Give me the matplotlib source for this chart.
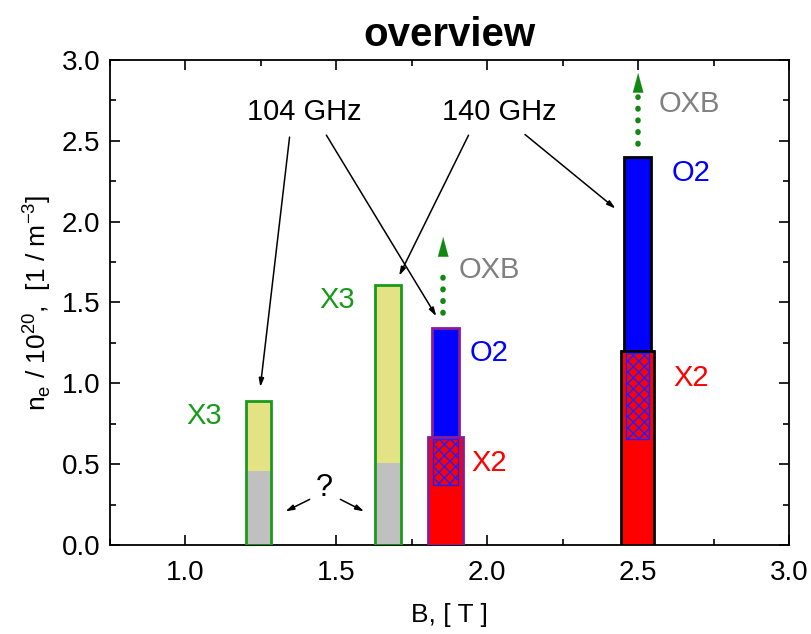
import matplotlib.pyplot as plt
from matplotlib.ticker import MultipleLocator

plt.rcParams['font.family'] = ['Liberation Sans', 'DejaVu Sans']
plt.rcParams['mathtext.fontset'] = 'custom'
plt.rcParams['mathtext.rm'] = 'Liberation Sans'

# X3 bars (gray lower part = uncertain, yellow upper part)
x3_pos = [1.242, 1.671]
x3_width = [0.085, 0.088]
x3_gray = [0.46, 0.505]
x3_top = [0.89, 1.61]

# X2 / O2 bars at 140 GHz
pos = [1.862, 2.498]
x2_width = [0.116, 0.108]
x2_top = [0.67, 1.20]
o2_width = [0.088, 0.088]
o2_top = [1.344, 2.40]
hatch_width = [0.083, 0.079]
hatch_low = [0.37, 0.655]
hatch_high = [0.654, 1.19]
bar_edge = ['#8a1a9a', 'black']

# OXB dotted arrows
oxb_x = [1.854, 2.5]
oxb_low = [1.435, 2.48]
oxb_high = [1.72, 2.77]
oxb_base = [1.78, 2.795]
oxb_tip = [1.905, 2.92]

fig = plt.figure(figsize=(8.12, 6.34), dpi=100)
ax = fig.add_axes([0.1355, 0.1404, 0.8362, 0.765])

for i in range(len(x3_pos)):
    ax.bar(x3_pos[i], x3_gray[i], width=x3_width[i], color='#c0c0c0',
           edgecolor='none', zorder=2)
    ax.bar(x3_pos[i], x3_top[i] - x3_gray[i], bottom=x3_gray[i],
           width=x3_width[i], color='#e3e284', edgecolor='none', zorder=2)
    ax.bar(x3_pos[i], x3_top[i], width=x3_width[i], fill=False,
           edgecolor='#1a9a1a', linewidth=2, zorder=3)

for i in range(len(pos)):
    ax.bar(pos[i], o2_top[i] - x2_top[i], bottom=x2_top[i], width=o2_width[i],
           color='#0000ff', edgecolor=bar_edge[i], linewidth=2, zorder=2)
    ax.bar(pos[i], x2_top[i], width=x2_width[i], color='#ff0000',
           edgecolor=bar_edge[i], linewidth=2, zorder=3)
    ax.bar(pos[i], hatch_high[i] - hatch_low[i], bottom=hatch_low[i],
           width=hatch_width[i], color='#ff0000', edgecolor='#2020ff',
           hatch='xxx', linewidth=1, zorder=4)
    ax.plot([oxb_x[i], oxb_x[i]], [oxb_low[i], oxb_high[i]], color='#118811',
            linestyle=(0, (0.1, 2.0)), linewidth=4, dash_capstyle='round', zorder=4)
    ax.annotate('', xy=(oxb_x[i], oxb_tip[i]), xytext=(oxb_x[i], oxb_base[i]),
                arrowprops=dict(arrowstyle='-|>,head_width=0.38,head_length=1.4',
                                color='#118811', lw=0.1, shrinkA=0, shrinkB=0),
                zorder=4)

fs = 21
ax.text(1.063, 0.80, 'X3', color='#1a9a1a', fontsize=fs, ha='center', va='center')
ax.text(1.502, 1.515, 'X3', color='#1a9a1a', fontsize=fs, ha='center', va='center')
ax.text(1.905, 1.70, 'OXB', color='#808080', fontsize=fs, ha='left', va='center')
ax.text(2.567, 2.73, 'OXB', color='#808080', fontsize=fs, ha='left', va='center')
ax.text(1.943, 1.19, 'O2', color='#0000ff', fontsize=fs, ha='left', va='center')
ax.text(2.61, 2.30, 'O2', color='#0000ff', fontsize=fs, ha='left', va='center')
ax.text(1.946, 0.51, 'X2', color='#ff0000', fontsize=fs, ha='left', va='center')
ax.text(2.616, 1.03, 'X2', color='#ff0000', fontsize=fs, ha='left', va='center')

ax.text(1.395, 2.68, '104 GHz', fontsize=fs, ha='center', va='center')
ax.text(2.04, 2.68, '140 GHz', fontsize=fs, ha='center', va='center')
arr = dict(arrowstyle='-|>,head_width=0.15,head_length=0.5', color='black', lw=1.1)
ax.annotate('', xy=(1.247, 0.96), xytext=(1.346, 2.54), arrowprops=arr)
ax.annotate('', xy=(1.836, 1.40), xytext=(1.462, 2.55), arrowprops=arr)
ax.annotate('', xy=(1.704, 1.65), xytext=(1.942, 2.55), arrowprops=arr)
ax.annotate('', xy=(2.432, 2.07), xytext=(2.118, 2.55), arrowprops=arr)

ax.text(1.46, 0.35, '?', fontsize=22, ha='center', va='center')
ax.annotate('', xy=(1.323, 0.20), xytext=(1.42, 0.29), arrowprops=arr)
ax.annotate('', xy=(1.60, 0.20), xytext=(1.505, 0.29), arrowprops=arr)

ax.set_xlim(0.75, 3.0)
ax.set_ylim(0, 3.0)
ax.xaxis.set_major_locator(MultipleLocator(0.5))
ax.xaxis.set_minor_locator(MultipleLocator(0.25))
ax.yaxis.set_major_locator(MultipleLocator(0.5))
ax.yaxis.set_minor_locator(MultipleLocator(0.25))
ax.tick_params(which='both', direction='in', top=True, right=True, labelsize=20, width=1.2)
ax.tick_params(which='major', length=7)
ax.tick_params(axis='x', which='major', pad=11)
ax.tick_params(axis='y', which='major', pad=7)
ax.tick_params(which='minor', length=4)
ax.set_xticks([1.0, 1.5, 2.0, 2.5, 3.0])
ax.set_xticklabels(['1.0', '1.5', '2.0', '2.5', '3.0'])
for s in ax.spines.values():
    s.set_linewidth(1.3)

ax.set_xlabel('B, [ T ]', fontsize=19, labelpad=12)
ax.set_ylabel(r'n$_{\rm e}$ / 10$^{20}$,  [1 / m$^{-3}$]', fontsize=19, labelpad=6)
ax.set_title('overview', fontsize=29, fontweight='bold', pad=10)

fig.savefig('out.png', dpi=100)
